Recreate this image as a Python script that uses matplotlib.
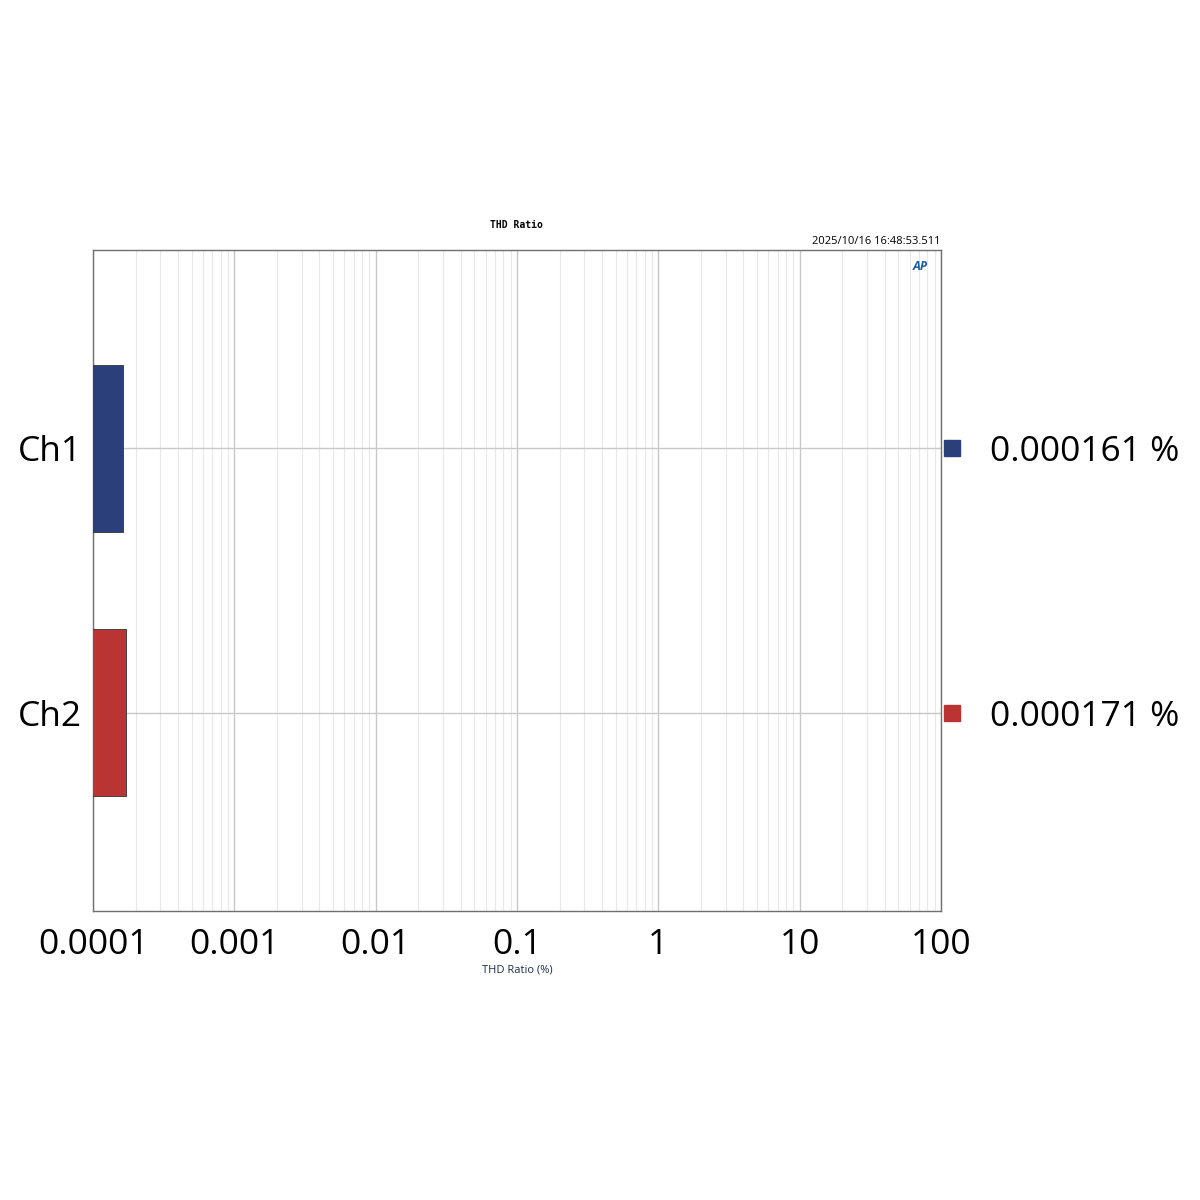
import matplotlib.pyplot as plt
from matplotlib.ticker import LogLocator, NullFormatter, FixedLocator, FixedFormatter

channels = ["Ch1", "Ch2"]
thd_values = [0.000161, 0.000171]
bar_colors = ["#2b407b", "#b93432"]
value_labels = ["0.000161 %", "0.000171 %"]
x_ticks = [0.0001, 0.001, 0.01, 0.1, 1, 10, 100]
x_tick_labels = ["0.0001", "0.001", "0.01", "0.1", "1", "10", "100"]

plt.rcParams['font.family'] = ['Open Sans', 'DejaVu Sans']

fig = plt.figure(figsize=(12, 12), dpi=100)
# axes box: x 93..941, y 250..911 (pixels, top origin)
ax = fig.add_axes([93 / 1200, 1 - 911 / 1200, 848 / 1200, 661 / 1200])

ypos = list(range(len(channels)))
ax.barh(ypos, thd_values, left=1e-6, height=0.63, color=bar_colors,
        edgecolor="#333333", linewidth=0.6, zorder=3)

ax.set_xscale("log")
ax.set_xlim(1e-4, 100)
ax.set_ylim(1.75, -0.75)

ax.xaxis.set_major_locator(FixedLocator(x_ticks))
ax.xaxis.set_major_formatter(FixedFormatter(x_tick_labels))
ax.xaxis.set_minor_locator(LogLocator(base=10, subs=range(2, 10), numticks=20))
ax.xaxis.set_minor_formatter(NullFormatter())
ax.grid(True, which="major", axis="x", color="#c8c8c8", linewidth=1.0, zorder=0)
ax.grid(True, which="minor", axis="x", color="#e8e8e8", linewidth=0.8, zorder=0)

ax.set_yticks(ypos)
ax.set_yticklabels(channels)
ax.grid(True, axis="y", color="#c8c8c8", linewidth=1.0, zorder=0)

ax.tick_params(axis="both", which="both", length=0, labelsize=25.5, pad=12)
ax.tick_params(axis="y", pad=8)
for s in ax.spines.values():
    s.set_color("#707070")
    s.set_linewidth(1.0)

ax.set_xlabel("THD Ratio (%)", fontsize=8, labelpad=2, color="#1a2a4a")
fig.text(516 / 1200, 1 - 225 / 1200, "THD Ratio", fontsize=7, fontweight="bold",
         family="DejaVu Sans Mono", ha="center", va="center")
fig.text(940 / 1200, 1 - 241 / 1200, "2025/10/16 16:48:53.511", fontsize=8,
         ha="right", va="center")
fig.text(920 / 1200, 1 - 266 / 1200, "AP", fontsize=9, fontweight="bold",
         style="italic", color="#1f5fa8", ha="center", va="center")

# legend-like value readouts to the right of the plot
for i, (c, lab) in enumerate(zip(bar_colors, value_labels)):
    ax.plot([1.013], [ypos[i]], marker="s", markersize=11, color=c,
            transform=ax.get_yaxis_transform(), clip_on=False)
    ax.text(1.058, ypos[i], lab, transform=ax.get_yaxis_transform(),
            fontsize=25.5, va="center_baseline", ha="left")

fig.savefig("out.png", dpi=100, facecolor="white")
